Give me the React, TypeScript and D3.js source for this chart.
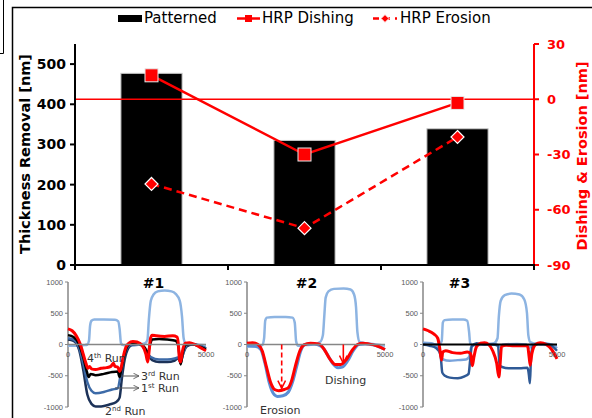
import React from 'react';
import * as d3 from 'd3';

type Pt = [number, number];

// ---- main chart data ----
const categories = ['#1', '#2', '#3'];
const patterned = [477, 310, 339];
const dishing = [13, -30, -2];
const erosion = [-46, -70, -20.5];
const leftTicks = [0, 100, 200, 300, 400, 500];
const rightTicks = [30, 0, -30, -60, -90];

// ---- inset data (position in nm vs height in nm) ----
const insetYTicks = [1000, 500, 0, -500, -1000];
const insetXTicks = [0, 5000];

const inset1Topo: Pt[] = [[0,-20],[300,-20],[600,-10],[700,0],[760,60],[800,300],[850,380],[950,400],[1300,400],[1700,395],[1820,370],[1870,250],[1920,20],[2000,-10],[2300,-20],[2600,0],[2800,20],[2880,80],[2930,400],[3000,700],[3100,800],[3250,850],[3500,865],[3750,850],[3900,810],[4050,700],[4130,450],[4190,100],[4260,20],[4500,0],[5000,-10]];
const inset1Run2: Pt[] = [[0,80],[200,60],[400,-80],[550,-400],[700,-800],[850,-950],[1000,-990],[1200,-990],[1500,-960],[1750,-920],[1870,-850],[1950,-550],[2050,-250],[2200,-50],[2350,0],[2600,10],[2750,-40],[2900,-150],[3050,-250],[3300,-280],[3600,-280],[3850,-260],[4000,-220],[4080,-300],[4150,-180],[4300,-30],[4500,0],[5000,-60]];
const inset1Run1: Pt[] = [[0,100],[200,80],[400,-50],[550,-300],[700,-600],[850,-740],[1000,-780],[1300,-760],[1600,-720],[1800,-700],[1900,-500],[2000,-250],[2150,-50],[2300,0],[2500,20],[2700,-30],[2850,-120],[3000,-200],[3300,-240],[3600,-240],[3900,-220],[4050,-200],[4100,-250],[4200,-100],[4350,0],[4600,0],[5000,-60]];
const inset1Run3: Pt[] = [[0,150],[200,120],[400,0],[550,-200],[680,-430],[750,-520],[820,-470],[1000,-490],[1300,-470],[1600,-440],[1800,-430],[1870,-520],[1930,-400],[2050,-150],[2200,0],[2400,30],[2650,0],[2800,-60],[2880,-160],[2950,-40],[3050,80],[3300,90],[3600,80],[3900,60],[4000,-40],[4080,-320],[4150,-150],[4280,0],[4500,10],[4800,-40],[5000,-80]];
const inset1Run4: Pt[] = [[0,250],[150,220],[300,140],[450,0],[550,-150],[650,-300],[720,-380],[780,-350],[850,-390],[1000,-400],[1200,-380],[1400,-370],[1550,-350],[1650,-300],[1700,-350],[1800,-360],[1870,-430],[1920,-380],[2000,-200],[2100,-40],[2200,20],[2350,50],[2500,40],[2700,-20],[2820,-150],[2890,-280],[2940,-100],[2990,100],[3050,150],[3200,140],[3500,130],[3800,140],[3950,120],[4000,0],[4040,-250],[4080,-280],[4150,-100],[4250,20],[4400,30],[4600,0],[4800,-50],[5000,-100]];

const inset2Topo: Pt[] = [[0,-30],[300,-30],[550,-10],[620,100],[660,380],[720,430],[1000,440],[1400,440],[1650,430],[1730,350],[1780,50],[1850,-20],[2100,-10],[2400,0],[2650,40],[2750,150],[2800,450],[2850,750],[2950,850],[3150,890],[3500,895],[3750,880],[3880,800],[3950,600],[4000,200],[4080,40],[4300,20],[4700,0],[5000,-20]];
const inset2Blue: Pt[] = [[0,-20],[300,-30],[500,-80],[650,-300],[800,-600],[950,-780],[1100,-830],[1300,-820],[1500,-760],[1650,-600],[1800,-350],[1950,-100],[2100,0],[2400,10],[2700,-30],[2900,-150],[3100,-300],[3300,-370],[3450,-360],[3650,-260],[3850,-100],[4050,0],[4300,10],[4600,-10],[5000,-80]];
const inset2Red: Pt[] = [[0,20],[200,30],[400,0],[550,-100],[700,-350],[850,-600],[1000,-720],[1150,-740],[1350,-720],[1500,-690],[1600,-600],[1750,-350],[1900,-120],[2050,-10],[2300,20],[2600,10],[2800,-80],[3000,-230],[3200,-320],[3400,-320],[3600,-240],[3800,-100],[4000,0],[4200,20],[4400,10],[4700,-20],[5000,-80]];
const inset2Arrows: { x: number; y: number; dashed: boolean }[] = [
  { x: 1257, y: -700, dashed: true },
  { x: 3490, y: -300, dashed: false },
];

const inset3Topo: Pt[] = [[0,20],[300,10],[600,0],[700,60],[740,350],[800,390],[1100,400],[1500,400],[1650,380],[1720,200],[1760,20],[1900,-10],[2300,0],[2650,20],[2780,100],[2830,450],[2900,700],[3050,790],[3300,815],[3600,800],[3780,720],[3880,500],[3930,150],[4000,40],[4300,0],[5000,-10]];
const inset3Light: Pt[] = [[0,30],[300,20],[550,-50],[680,-200],[750,-240],[1000,-260],[1300,-250],[1600,-240],[1720,-200],[1800,-40],[1950,0],[2400,10],[2750,0],[2850,-30],[3000,0],[3500,10],[3850,0],[3950,-60],[4050,0],[4400,20],[4800,0],[5000,-60]];
const inset3Dark: Pt[] = [[0,0],[250,-20],[500,-60],[650,-150],[720,-450],[820,-500],[1000,-530],[1300,-540],[1550,-510],[1700,-470],[1760,-250],[1820,-30],[2000,20],[2300,0],[2600,0],[2800,-20],[2860,-330],[2950,-360],[3200,-380],[3600,-380],[3900,-370],[3950,-480],[3990,-620],[4030,-200],[4100,-20],[4300,10],[4600,10],[4800,-20],[5000,-100]];
const inset3Red: Pt[] = [[0,250],[200,220],[400,170],[550,100],[620,-50],[690,-250],[740,-120],[850,-100],[1100,-130],[1400,-140],[1650,-120],[1780,-150],[1840,-340],[1900,-200],[2000,-30],[2150,20],[2300,30],[2450,0],[2600,-100],[2750,-300],[2830,-520],[2880,-300],[2930,-30],[3100,-10],[3400,-20],[3700,-20],[3900,-20],[3960,-200],[4000,-330],[4060,-150],[4200,0],[4380,30],[4600,0],[4800,-80],[5000,-230]];

const FONT = 'DejaVu Sans, Verdana, sans-serif';
const RED = '#ff0000';

function Inset(props: {
  x0: number; x1: number; title: string; axisColor?: string; axisWidth?: number;
  series: { data: Pt[]; color: string; width: number }[];
  children?: (xs: d3.ScaleLinear<number, number>, ys: d3.ScaleLinear<number, number>) => React.ReactNode;
}) {
  const { x0, x1, series } = props;
  const xs = d3.scaleLinear().domain([0, 5000]).range([x0, x1]);
  const ys = d3.scaleLinear().domain([-1000, 1000]).range([407, 282]);
  const line = d3.line<Pt>().x(d => xs(d[0])).y(d => ys(d[1])).curve(d3.curveMonotoneX);
  const gray = '#868686';
  return (
    <g>
      <line x1={x0} x2={x0} y1={ys(1000)} y2={ys(-1000)} stroke={gray} strokeWidth={1.5} />
      {insetYTicks.map(t => (
        <g key={t}>
          <line x1={x0 - 3} x2={x0} y1={ys(t)} y2={ys(t)} stroke={gray} strokeWidth={1} />
          <text x={x0 - 5} y={ys(t)} dy="0.35em" textAnchor="end" fontSize={7.5} fill="#595959" fontFamily="Liberation Sans, Arial, sans-serif">{t}</text>
        </g>
      ))}
      {series.map((s, i) => (
        <path key={i} d={line(s.data) || ''} fill="none" stroke={s.color} strokeWidth={s.width} strokeLinejoin="round" />
      ))}
      <line x1={x0} x2={x1} y1={ys(0)} y2={ys(0)} stroke={props.axisColor || gray} strokeWidth={props.axisWidth || 1.5} />
      {insetXTicks.map(t => (
        <text key={t} x={xs(t)} y={ys(0) + 12} textAnchor="middle" fontSize={7.5} fill="#595959" fontFamily="Liberation Sans, Arial, sans-serif">{t}</text>
      ))}
      {props.children && props.children(xs, ys)}
    </g>
  );
}

export default function App() {
  const W = 592, H = 418;
  const x = d3.scaleBand<string>().domain(categories).range([75, 534]).paddingInner(0.6).paddingOuter(0.3);
  const yL = d3.scaleLinear().domain([0, 550]).range([265, 44]);
  const yR = d3.scaleLinear().domain([-90, 30]).range([265, 44]);
  const cx = (c: string) => (x(c) || 0) + x.bandwidth() / 2;
  const dishLine = d3.line<number>().x((_, i) => cx(categories[i])).y(d => yR(d));
  const eroLine = d3.line<number>().x((_, i) => cx(categories[i])).y(d => yR(d));
  const step = x.step();
  const boundaries = [0, 1, 2, 3].map(i => 75 + i * step);

  return (
    <svg width={W} height={H} style={{ position: 'absolute', left: 0, top: 0, background: '#fff' }} fontFamily={FONT}>
      <defs>
        <marker id="arrGray" viewBox="0 0 10 10" refX="9" refY="5" markerWidth="7" markerHeight="7" orient="auto">
          <path d="M1,1 L9,5 L1,9" fill="none" stroke="#555" strokeWidth={1.2} />
        </marker>
        <marker id="arrRed" viewBox="0 0 10 10" refX="9" refY="5" markerWidth="6" markerHeight="6" orient="auto">
          <path d="M1,1 L9,5 L1,9" fill="none" stroke={RED} strokeWidth={1.6} />
        </marker>
      </defs>
      <rect x={0} y={0} width={W} height={H} fill="#fff" />
      {/* frames */}
      <path d="M0,53.5 H3.5 V0" fill="none" stroke="#000" strokeWidth={1} />
      <rect x={12.5} y={7.5} width={620} height={440} fill="none" stroke="#000" strokeWidth={1.5} />

      {/* legend */}
      <rect x={118} y={15} width={24} height={7} fill="#000" />
      <text x={144} y={23} fontSize={15} fill="#000">Patterned</text>
      <line x1={237} x2={260} y1={18.5} y2={18.5} stroke={RED} strokeWidth={2.5} />
      <rect x={245} y={15} width={7} height={7} fill={RED} />
      <text x={262} y={23} fontSize={15} fill="#000">HRP Dishing</text>
      <line x1={373} x2={397} y1={18.5} y2={18.5} stroke={RED} strokeWidth={2.5} strokeDasharray="6,5" />
      <path d={`M385,14.5 L389,18.5 L385,22.5 L381,18.5 Z`} fill={RED} stroke="#fff" strokeWidth={1} />
      <text x={400} y={23} fontSize={15} fill="#000">HRP Erosion</text>

      {/* bars */}
      {categories.map((c, i) => (
        <rect key={c} x={x(c)} y={yL(patterned[i])} width={x.bandwidth()} height={yL(0) - yL(patterned[i])} fill="#000" stroke="#c8c8c8" strokeWidth={1} />
      ))}

      {/* zero line of right axis */}
      <line x1={75} x2={534} y1={yR(0)} y2={yR(0)} stroke={RED} strokeWidth={1.5} />

      {/* lines */}
      <path d={dishLine(dishing) || ''} fill="none" stroke={RED} strokeWidth={2.5} />
      <path d={eroLine(erosion) || ''} fill="none" stroke={RED} strokeWidth={2.5} strokeDasharray="8,5" />
      {dishing.map((v, i) => (
        <rect key={i} x={cx(categories[i]) - 6.5} y={yR(v) - 6.5} width={13} height={13} fill={RED} stroke="#e8e8e8" strokeWidth={1} />
      ))}
      {erosion.map((v, i) => {
        const px = cx(categories[i]), py = yR(v);
        return <path key={i} d={`M${px},${py - 6.5} L${px + 6.5},${py} L${px},${py + 6.5} L${px - 6.5},${py} Z`} fill={RED} stroke="#fff" strokeWidth={1.2} />;
      })}

      {/* left axis */}
      <line x1={75} x2={75} y1={44} y2={266} stroke="#000" strokeWidth={2} />
      {leftTicks.map(t => (
        <g key={t}>
          <line x1={70} x2={75} y1={yL(t)} y2={yL(t)} stroke="#000" strokeWidth={2} />
          <text x={66} y={yL(t)} dy="0.36em" textAnchor="end" fontSize={14} fontWeight="bold" fill="#000">{t}</text>
        </g>
      ))}
      <text transform="translate(30,154) rotate(-90)" textAnchor="middle" fontSize={14.5} fontWeight="bold" fill="#000">Thickness Removal [nm]</text>

      {/* right axis */}
      <line x1={534} x2={534} y1={44} y2={265} stroke={RED} strokeWidth={2} />
      {rightTicks.map(t => (
        <g key={t}>
          <line x1={534} x2={539} y1={yR(t)} y2={yR(t)} stroke={RED} strokeWidth={2} />
          <text x={547} y={yR(t)} dy="0.36em" textAnchor="start" fontSize={13} fontWeight="bold" fill={RED}>{t}</text>
        </g>
      ))}
      <text transform="translate(587,156) rotate(-90)" textAnchor="middle" fontSize={14.5} fontWeight="bold" fill={RED}>Dishing &amp; Erosion [nm]</text>

      {/* bottom axis */}
      <line x1={74} x2={535} y1={265} y2={265} stroke="#000" strokeWidth={2} />
      {boundaries.map((b, i) => (
        <line key={i} x1={b} x2={b} y1={265} y2={270} stroke="#000" strokeWidth={2} />
      ))}

      {/* insets */}
      <Inset x0={68} x1={206} title="#1" series={[
        { data: inset1Topo, color: '#8db4e2', width: 2.5 },
        { data: inset1Run2, color: '#1c3258', width: 2.5 },
        { data: inset1Run1, color: '#3d6ba8', width: 2.5 },
        { data: inset1Run3, color: '#000000', width: 2.5 },
        { data: inset1Run4, color: RED, width: 3 },
      ]} />
      <Inset x0={247} x1={385} title="#2" series={[
        { data: inset2Topo, color: '#8db4e2', width: 2.5 },
        { data: inset2Blue, color: '#5b8fd6', width: 3 },
        { data: inset2Red, color: RED, width: 3 },
      ]}>
        {(xs, ys) => inset2Arrows.map((a, i) => (
          <line key={i} x1={xs(a.x)} x2={xs(a.x)} y1={ys(0)} y2={ys(a.y)} stroke={RED} strokeWidth={1.6}
            strokeDasharray={a.dashed ? '5,3' : undefined} markerEnd="url(#arrRed)" />
        ))}
      </Inset>
      <Inset x0={423} x1={557} title="#3" axisColor="#000" axisWidth={2} series={[
        { data: inset3Topo, color: '#8db4e2', width: 2.5 },
        { data: inset3Light, color: '#79a3db', width: 2.5 },
        { data: inset3Dark, color: '#2f5a96', width: 2.5 },
        { data: inset3Red, color: RED, width: 3 },
      ]} />

      {/* inset annotations */}
      <g fontSize={11} fill="#333">
        <text x={87} y={362}>4<tspan fontSize={7} dy={-4}>th</tspan><tspan dy={4}> Run</tspan></text>
        <line x1={122} x2={139} y1={376} y2={376} stroke="#555" strokeWidth={1} markerEnd="url(#arrGray)" />
        <text x={141} y={380}>3<tspan fontSize={7} dy={-4}>rd</tspan><tspan dy={4}> Run</tspan></text>
        <line x1={115} x2={139} y1={388} y2={388} stroke="#555" strokeWidth={1} markerEnd="url(#arrGray)" />
        <text x={141} y={392}>1<tspan fontSize={7} dy={-4}>st</tspan><tspan dy={4}> Run</tspan></text>
        <text x={105} y={415}>2<tspan fontSize={7} dy={-4}>nd</tspan><tspan dy={4}> Run</tspan></text>
        <text x={260} y={414}>Erosion</text>
        <text x={325} y={384}>Dishing</text>
      </g>

      {/* category labels */}
      {categories.map(c => (
        <text key={c} x={cx(c) + 2} y={288} textAnchor="middle" fontSize={14} fontWeight="bold" fill="#000">{c}</text>
      ))}
    </svg>
  );
}
